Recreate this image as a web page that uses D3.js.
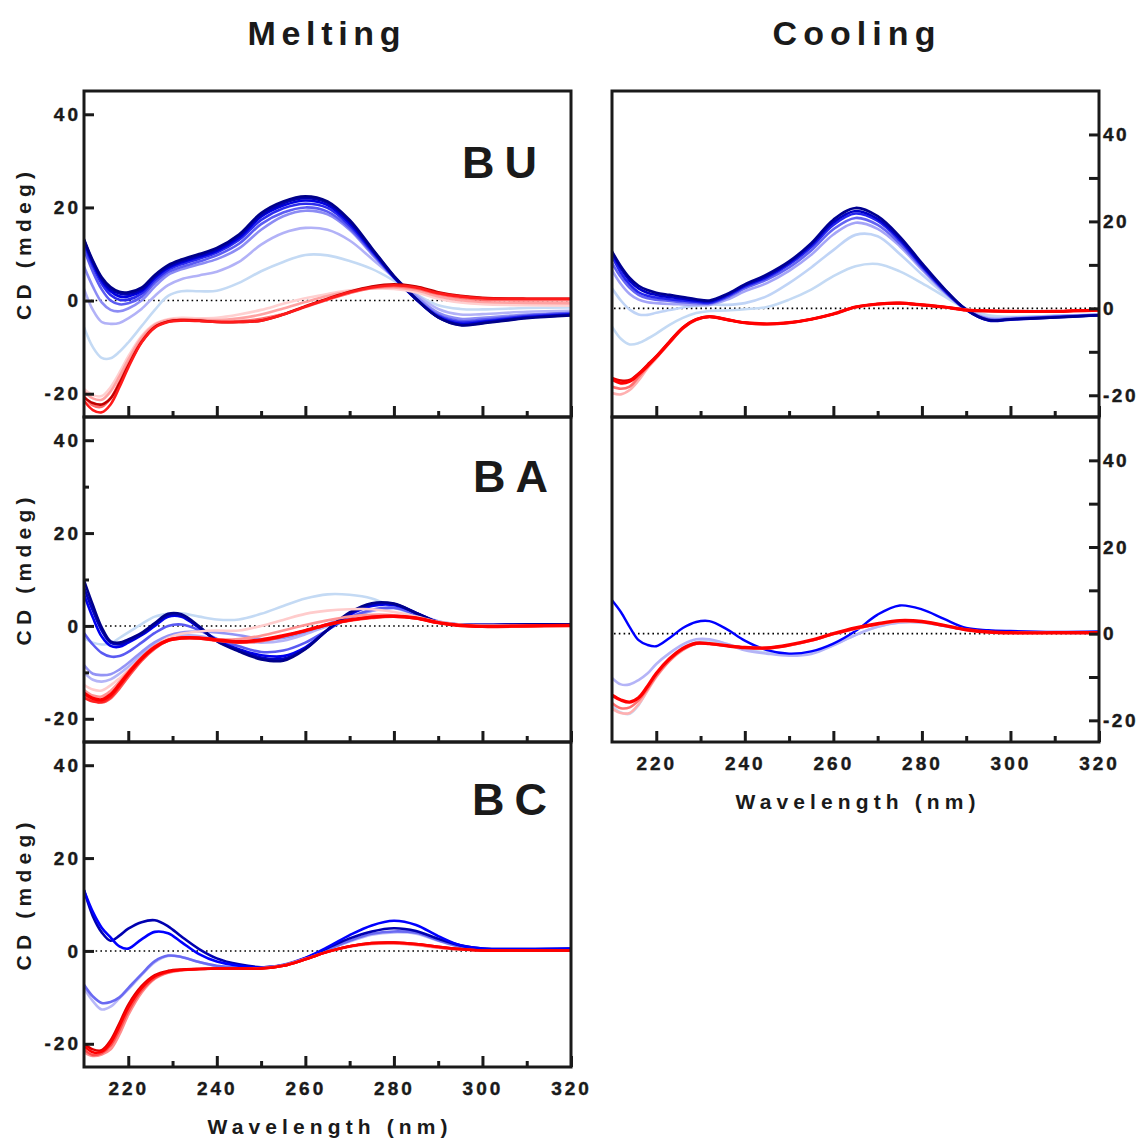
<!DOCTYPE html>
<html><head><meta charset="utf-8">
<script src="https://cdn.jsdelivr.net/npm/d3@7"></script>
<style>
body{margin:0;background:#fff;}
svg text{font-family:"Liberation Sans",Arial,sans-serif;font-weight:bold;fill:#1a1a1a;}
</style></head><body>
<svg id="c" width="1143" height="1142"></svg>
<script>
// ---------- DATA ----------
const wavelengths = [210,212,214,216,218,220,223,226,229,232,236,240,245,250,255,260,265,270,275,280,285,290,295,300,310,320];
const xMajorTicks = [220,240,260,280,300,320];
const xMinorTicks = [230,250,270,290,310];
const yMajorTicks = [-20,0,20,40];
const yMinorTicks = [-10,10,30];
const columnTitles = ["Melting","Cooling"];
const panelNames = ["BU","BA","BC"];
const yAxisTitle = "CD (mdeg)";
const xAxisTitle = "Wavelength (nm)";

// BU melting
const buM_b1 = [13.2,8.6,5.0,2.9,1.9,1.8,2.8,5.5,7.6,8.8,10.0,11.3,14.2,18.8,21.3,22.4,21.3,17.3,11.3,5.3,0.4,-3.6,-5.3,-4.9,-3.8,-3.2];
const buM_b2 = [13.0,8.3,4.7,2.5,1.5,1.4,2.4,5.2,7.3,8.5,9.7,11.0,13.9,18.4,20.9,22.0,21.0,17.0,11.1,5.2,0.3,-3.6,-5.2,-4.8,-3.7,-3.1];
const buM_b3 = [12.8,8.0,4.3,2.0,0.9,0.9,2.0,4.9,7.0,8.2,9.4,10.7,13.5,18.0,20.4,21.5,20.5,16.6,10.9,5.1,0.3,-3.5,-5.0,-4.6,-3.6,-3.0];
const buM_b4 = [12.2,7.4,3.6,1.2,0.2,0.2,1.5,4.4,6.6,7.8,9.0,10.3,13.0,17.3,19.8,20.8,19.9,16.1,10.6,5.0,0.4,-3.3,-4.7,-4.4,-3.4,-2.9];
const buM_b5 = [11.0,6.2,2.4,0.0,-0.8,-0.6,0.8,3.8,6.1,7.2,8.4,9.7,12.2,16.4,18.9,20.0,19.1,15.6,10.3,4.9,0.5,-3.1,-4.4,-4.1,-3.2,-2.7];
const buM_b6 = [7.3,3.0,-0.4,-2.0,-2.3,-1.7,0.0,3.0,5.5,6.7,7.8,8.9,11.2,15.2,18.1,19.3,18.5,15.2,10.0,5.0,0.9,-2.6,-3.9,-3.7,-3.0,-2.6];
const buM_b7 = [2.5,-2.0,-4.6,-5.0,-4.8,-3.8,-1.8,1.0,3.3,4.6,5.4,6.2,8.3,12.0,14.5,15.6,15.2,12.9,9.0,5.0,1.3,-1.8,-3.0,-2.9,-2.4,-2.2];
const buM_b8 = [-5.7,-10.0,-12.3,-12.4,-11.0,-9.0,-5.5,-2.0,1.0,2.0,2.0,2.1,3.8,6.3,8.3,9.8,9.7,8.5,6.8,4.3,1.4,-1.0,-1.8,-1.9,-1.6,-1.5];
const buM_r1 = [-19.0,-20.3,-20.5,-18.6,-15.5,-12.0,-7.6,-5.0,-4.0,-3.7,-3.8,-3.7,-3.0,-2.0,-0.7,0.5,1.4,2.2,2.6,2.5,1.8,0.4,-0.4,-0.8,-1.0,-1.1];
const buM_r2 = [-19.5,-21.0,-21.3,-19.5,-16.3,-12.7,-8.0,-5.2,-4.2,-4.0,-4.1,-4.2,-3.8,-3.0,-1.7,-0.3,1.0,2.0,2.6,2.8,2.2,0.9,0.1,-0.3,-0.5,-0.6];
const buM_r3 = [-20.5,-22.5,-22.8,-21.0,-17.5,-13.7,-8.7,-5.6,-4.5,-4.2,-4.3,-4.5,-4.4,-3.9,-2.9,-1.4,0.2,1.6,2.7,3.1,2.6,1.4,0.6,0.2,0.1,0.1];
const buM_r4 = [-21.5,-23.5,-24.0,-22.3,-18.6,-14.4,-9.0,-5.8,-4.6,-4.3,-4.4,-4.6,-4.6,-4.3,-3.0,-1.3,0.3,1.8,2.8,3.3,2.8,1.6,0.9,0.5,0.4,0.4];
const buM_r5 = [-20.8,-22.0,-22.3,-21.0,-17.8,-14.0,-8.9,-5.7,-4.5,-4.2,-4.3,-4.6,-4.6,-4.3,-3.0,-1.2,0.4,1.9,3.0,3.5,3.0,1.8,1.0,0.6,0.4,0.4];

// BU cooling
const buC_b1 = [13.1,9.7,7.0,5.2,4.2,3.6,3.1,2.6,2.1,1.8,3.3,5.5,7.8,10.8,15.0,20.4,23.1,21.2,16.5,10.4,4.6,-0.3,-2.7,-2.5,-2.1,-1.6];
const buC_b2 = [12.8,9.2,6.4,4.6,3.6,3.1,2.6,2.2,1.8,1.6,3.1,5.3,7.4,10.5,14.6,19.8,22.4,20.6,16.0,10.0,4.4,-0.3,-2.8,-2.6,-2.1,-1.6];
const buC_b3 = [12.0,8.2,5.5,3.7,2.9,2.5,2.1,1.8,1.5,1.3,2.8,5.0,7.1,10.1,14.1,19.2,21.8,20.1,15.6,9.7,4.2,-0.3,-2.7,-2.5,-2.0,-1.6];
const buC_b4 = [10.4,7.2,4.7,3.1,2.3,2.0,1.7,1.4,1.2,1.1,2.5,4.6,6.6,9.4,13.3,18.2,20.8,19.2,14.9,9.3,4.0,-0.3,-2.5,-2.4,-1.9,-1.5];
const buC_b5 = [8.8,5.6,3.3,2.0,1.4,1.2,1.0,0.9,0.8,0.8,2.0,3.9,5.8,8.6,12.3,17.0,19.7,18.3,14.3,8.9,3.8,-0.2,-2.3,-2.2,-1.8,-1.5];
const buC_b6 = [4.6,1.8,-0.3,-1.4,-1.5,-1.0,-0.4,0.2,0.6,0.9,0.8,1.2,2.8,5.8,9.4,13.4,16.9,16.6,12.5,7.8,3.4,-0.1,-1.8,-2.0,-1.7,-1.5];
const buC_b7 = [-4.2,-7.0,-8.3,-8.0,-7.0,-5.8,-3.8,-2.2,-1.1,-0.6,-0.5,-0.2,0.3,2.0,4.3,7.4,9.7,10.2,8.5,5.8,2.8,-0.1,-1.6,-2.0,-1.7,-1.5];
const buC_r1 = [-19.5,-19.8,-18.8,-16.6,-13.8,-11.5,-8.0,-4.7,-2.7,-2.0,-2.6,-3.3,-3.6,-3.3,-2.5,-1.3,0.2,0.9,1.2,0.8,0.3,-0.3,-0.6,-0.7,-0.7,-0.4];
const buC_r2 = [-18.0,-18.5,-18.0,-15.8,-13.5,-11.3,-7.9,-4.6,-2.6,-1.9,-2.6,-3.3,-3.6,-3.3,-2.5,-1.3,0.3,1.0,1.2,0.8,0.3,-0.4,-0.6,-0.7,-0.7,-0.4];
const buC_r3 = [-16.3,-17.2,-16.8,-15.2,-13.3,-11.2,-7.8,-4.5,-2.6,-1.9,-2.6,-3.3,-3.6,-3.3,-2.5,-1.3,0.3,1.0,1.2,0.8,0.3,-0.4,-0.6,-0.7,-0.7,-0.4];
const buC_r4 = [-16.0,-16.6,-16.5,-15.0,-13.0,-11.0,-7.6,-4.4,-2.5,-1.9,-2.6,-3.3,-3.6,-3.3,-2.5,-1.3,0.3,1.0,1.2,0.8,0.3,-0.4,-0.6,-0.7,-0.7,-0.4];

// BA melting
const baM_b1 = [9.8,4.5,-0.3,-3.3,-3.6,-2.9,-1.5,0.6,2.6,2.5,-0.1,-3.3,-5.5,-7.2,-7.5,-5.0,-0.8,2.9,4.9,4.8,2.8,0.8,0.3,0.2,0.3,0.3];
const baM_b2 = [8.3,3.3,-1.0,-3.6,-4.0,-3.3,-1.8,0.3,2.3,2.2,-0.3,-3.2,-5.2,-6.8,-7.1,-4.9,-0.9,2.6,4.6,4.7,2.8,0.8,0.3,0.2,0.3,0.3];
const baM_b3 = [6.8,1.8,-2.3,-4.3,-4.5,-3.6,-2.0,0.0,2.0,2.0,-0.4,-3.1,-5.0,-6.3,-6.5,-4.6,-0.9,2.4,4.3,4.5,2.8,0.8,0.3,0.2,0.3,0.3];
const baM_b4 = [-1.5,-4.0,-5.8,-6.6,-6.5,-5.6,-3.6,-1.5,0.0,0.3,-0.9,-2.8,-4.4,-5.6,-5.3,-3.6,-0.9,1.8,3.5,3.9,2.5,0.8,0.3,0.2,0.3,0.3];
const baM_b5 = [-8.4,-10.3,-10.6,-10.4,-9.4,-8.0,-5.6,-3.5,-2.1,-1.4,-1.2,-1.4,-2.0,-2.8,-2.6,-1.3,0.4,1.9,3.3,3.9,2.7,1.0,0.3,0.2,0.3,0.3];
const baM_b6 = [-10.0,-11.6,-12.0,-11.5,-10.3,-8.8,-6.2,-3.9,-2.5,-2.0,-2.2,-2.8,-3.2,-3.6,-3.2,-1.8,0.0,1.7,3.2,3.8,2.6,0.9,0.3,0.2,0.3,0.3];
const baM_b7 = [-2.6,-3.6,-4.0,-3.8,-2.6,-1.4,0.4,2.0,2.6,2.7,2.0,1.4,1.4,2.6,4.3,5.9,6.8,6.7,5.9,4.0,2.3,0.8,0.3,0.2,0.3,0.3];
const baM_r1 = [-12.7,-13.7,-13.9,-12.8,-11.3,-9.6,-6.9,-4.4,-2.6,-1.7,-1.2,-1.0,-1.0,0.0,1.3,2.6,3.3,3.6,3.6,3.0,2.0,0.9,0.3,0.1,0.1,0.1];
const baM_r2 = [-13.8,-15.0,-15.2,-14.0,-12.0,-9.8,-6.8,-4.3,-3.0,-2.6,-2.6,-2.9,-2.8,-2.1,-1.0,0.2,1.2,2.0,2.4,2.3,1.6,0.7,0.2,0.0,0.0,0.1];
const baM_r3 = [-15.0,-16.0,-16.5,-15.6,-13.5,-11.0,-7.5,-4.9,-3.2,-2.7,-2.7,-3.2,-3.6,-3.3,-2.3,-1.1,0.2,1.1,1.7,2.0,1.6,0.7,0.1,-0.1,0.0,0.1];
const baM_r4 = [-15.5,-16.3,-16.4,-15.3,-13.0,-10.5,-7.2,-4.6,-3.0,-2.5,-2.6,-3.1,-3.5,-3.1,-2.2,-1.0,0.3,1.2,1.9,2.1,1.7,0.7,0.1,-0.1,0.0,0.1];
const baM_r5 = [-14.5,-15.6,-15.9,-14.8,-12.6,-10.2,-7.0,-4.6,-3.1,-2.6,-2.6,-3.0,-3.4,-3.0,-2.1,-1.0,0.3,1.3,1.9,2.1,1.7,0.7,0.1,-0.1,0.0,0.1];

// BA cooling
const baC_b1 = [7.7,5.0,1.5,-1.5,-2.6,-2.9,-1.0,1.3,2.7,2.9,1.0,-1.6,-3.8,-4.6,-4.1,-2.3,0.6,4.4,6.5,5.6,3.4,1.3,0.8,0.6,0.4,0.5];
const baC_b2 = [-10.2,-11.7,-11.7,-10.7,-9.2,-7.0,-4.5,-2.5,-1.3,-1.3,-2.4,-3.8,-4.6,-5.1,-4.7,-2.7,-0.3,1.6,2.6,2.6,1.8,0.9,0.4,0.3,0.2,0.2];
const baC_b3 = [-16.6,-18.2,-18.5,-16.5,-13.0,-9.5,-5.8,-3.3,-2.0,-1.6,-2.4,-3.6,-4.4,-4.8,-4.5,-2.6,-0.3,1.6,2.6,2.6,1.8,0.9,0.4,0.3,0.2,0.2];
const baC_r1 = [-17.3,-18.3,-18.3,-16.3,-13.2,-10.0,-6.3,-3.8,-2.4,-2.3,-2.8,-3.2,-3.3,-2.7,-1.6,-0.1,1.1,2.1,2.8,2.7,1.9,0.9,0.4,0.2,0.2,0.2];
const baC_r2 = [-16.0,-17.2,-17.0,-15.4,-12.8,-9.8,-6.2,-3.7,-2.3,-2.3,-2.8,-3.2,-3.3,-2.7,-1.6,-0.1,1.2,2.2,2.9,2.8,1.9,0.9,0.4,0.2,0.2,0.2];
const baC_r3 = [-14.2,-15.3,-15.8,-14.8,-12.2,-9.2,-5.8,-3.4,-2.2,-2.3,-2.8,-3.2,-3.3,-2.6,-1.5,0.0,1.3,2.3,3.0,2.8,1.9,0.9,0.4,0.2,0.2,0.2];

// BC melting
const bcM_b1 = [13.1,7.5,4.0,2.2,3.3,4.8,6.2,6.6,5.3,3.1,0.4,-1.6,-2.9,-3.5,-3.1,-1.6,0.6,2.7,4.2,4.9,4.3,2.6,1.2,0.5,0.4,0.5];
const bcM_b2 = [13.0,8.4,5.0,2.9,1.0,0.5,2.5,4.1,3.8,1.9,-0.7,-2.3,-3.2,-3.6,-3.1,-1.5,0.8,3.4,5.5,6.5,5.6,3.2,1.2,0.5,0.4,0.5];
const bcM_b3 = [-7.3,-9.8,-11.2,-11.0,-10.0,-8.0,-5.0,-2.2,-1.0,-1.3,-2.4,-3.2,-3.6,-3.6,-3.0,-1.5,0.3,2.2,3.7,4.2,3.9,2.3,0.9,0.3,0.3,0.3];
const bcM_b4 = [-8.0,-10.8,-12.6,-12.0,-10.2,-8.3,-5.2,-2.4,-1.1,-1.3,-2.4,-3.3,-3.6,-3.6,-3.0,-1.5,0.2,2.0,3.5,4.0,3.7,2.2,0.8,0.3,0.3,0.3];
const bcM_r1 = [-21.8,-22.6,-22.3,-21.2,-18.0,-13.8,-9.0,-6.0,-4.7,-4.2,-3.9,-3.8,-3.8,-3.7,-3.1,-1.7,-0.2,0.9,1.5,1.6,1.3,0.7,0.3,0.1,0.1,0.1];
const bcM_r2 = [-21.2,-22.4,-22.0,-20.4,-17.0,-13.0,-8.5,-5.8,-4.6,-4.1,-3.9,-3.8,-3.8,-3.8,-3.2,-1.8,-0.2,1.0,1.6,1.7,1.4,0.8,0.3,0.1,0.1,0.1];
const bcM_r3 = [-20.5,-21.8,-21.7,-19.8,-16.2,-12.2,-8.0,-5.5,-4.5,-4.1,-3.9,-3.8,-3.8,-3.8,-3.2,-1.8,-0.2,1.0,1.7,1.8,1.5,0.9,0.4,0.1,0.1,0.1];
const bcM_r4 = [-20.0,-21.2,-21.4,-19.3,-15.6,-11.6,-7.6,-5.2,-4.3,-4.0,-3.9,-3.8,-3.8,-3.8,-3.2,-1.8,-0.2,1.0,1.7,1.8,1.5,0.9,0.4,0.1,0.1,0.1];

// ---------- DRAWING ----------
const svg = d3.select("#c");
const TICKFONT = 19;
const hyphenFmt = d => String(d);   // plain hyphen-minus like the reference

const panels = [
  {id:"bum", x0:84, x1:571, y0:91, y1:417, yDomain:[-25,45], side:"left", yMinor:false, xLabels:false, name:panelNames[0], nameX:462, nameY:178,
   series:[
    {v:buM_b8,c:"#c4daf4"},{v:buM_b7,c:"#b2b2f7"},{v:buM_b6,c:"#8c8cf4"},{v:buM_b5,c:"#5c5cf2"},
    {v:buM_b4,c:"#2a2aee"},{v:buM_b3,c:"#0000e0"},{v:buM_b2,c:"#0000b4"},{v:buM_b1,c:"#000088"},
    {v:buM_r1,c:"#ffd0d0"},{v:buM_r2,c:"#ffa2a2"},{v:buM_r3,c:"#ff6a6a"},{v:buM_r5,c:"#c00000"},{v:buM_r4,c:"#ff1a1a"}]},
  {id:"bam", x0:84, x1:571, y0:417, y1:742, yDomain:[-25,45], side:"left", yMinor:true, xLabels:false, name:panelNames[1], nameX:473, nameY:492,
   series:[
    {v:baM_b7,c:"#c4daf4"},{v:baM_b6,c:"#b4b4f7"},{v:baM_b5,c:"#9494f5"},{v:baM_b4,c:"#5a5af2"},
    {v:baM_b3,c:"#0000ee"},{v:baM_b2,c:"#0000c0"},{v:baM_b1,c:"#00008a"},
    {v:baM_r1,c:"#ffcccc"},{v:baM_r2,c:"#ff9494"},{v:baM_r3,c:"#ff5050"},{v:baM_r4,c:"#ff2020"},{v:baM_r5,c:"#ff0000",w:3.4}]},
  {id:"bcm", x0:84, x1:571, y0:742, y1:1067, yDomain:[-25,45], side:"left", yMinor:false, xLabels:true, name:panelNames[2], nameX:472, nameY:815,
   series:[
    {v:bcM_b4,c:"#b8b8f8"},{v:bcM_b3,c:"#6a6af2"},{v:bcM_b1,c:"#0000b0"},{v:bcM_b2,c:"#0000ff"},
    {v:bcM_r1,c:"#ff8c8c"},{v:bcM_r2,c:"#ff4a4a"},{v:bcM_r4,c:"#e00000"},{v:bcM_r3,c:"#ff0000"}]},
  {id:"buc", x0:612, x1:1099, y0:91, y1:417, yDomain:[-25,50], side:"right", yMinor:true, xLabels:false,
   series:[
    {v:buC_b7,c:"#c4daf4"},{v:buC_b6,c:"#c0d4f6"},{v:buC_b5,c:"#a4a4f7"},{v:buC_b4,c:"#6464f2"},
    {v:buC_b3,c:"#2424ee"},{v:buC_b2,c:"#0000c8"},{v:buC_b1,c:"#000090"},
    {v:buC_r1,c:"#ffb0b0"},{v:buC_r2,c:"#ff7070"},{v:buC_r4,c:"#e00000"},{v:buC_r3,c:"#ff0000",w:3.2}]},
  {id:"bac", x0:612, x1:1099, y0:417, y1:742, yDomain:[-25,50], side:"right", yMinor:true, xLabels:true,
   series:[
    {v:baC_b3,c:"#c4daf4"},{v:baC_b2,c:"#b4b4f7"},{v:baC_b1,c:"#0000ff",w:2.4},
    {v:baC_r1,c:"#ffb0b0"},{v:baC_r2,c:"#ff7070"},{v:baC_r3,c:"#ff0000",w:3.4}]}
];

panels.forEach(p => {
  const x = d3.scaleLinear().domain([210,320]).range([p.x0,p.x1]);
  const y = d3.scaleLinear().domain(p.yDomain).range([p.y1,p.y0]);
  const g = svg.append("g");
  svg.append("clipPath").attr("id","clip-"+p.id).append("rect")
    .attr("x",p.x0).attr("y",p.y0).attr("width",p.x1-p.x0).attr("height",p.y1-p.y0);

  // zero reference line
  g.append("line").attr("x1",p.x0+2).attr("x2",p.x1).attr("y1",y(0)).attr("y2",y(0))
    .attr("stroke","#000").attr("stroke-width",1.6).attr("stroke-dasharray","1.6,3.2");

  const line = d3.line().x((d,i)=>x(wavelengths[i])).y(d=>y(d)).curve(d3.curveCatmullRom.alpha(0.5));
  const lg = g.append("g").attr("clip-path","url(#clip-"+p.id+")");
  p.series.forEach(s => {
    lg.append("path").datum(s.v).attr("d",line).attr("fill","none")
      .attr("stroke",s.c).attr("stroke-width",s.w||2.6)
      .attr("stroke-linejoin","round").attr("stroke-linecap","round");
  });

  // x axis (ticks inward)
  const xa = g.append("g").attr("transform",`translate(0,${p.y1})`)
    .call(d3.axisBottom(x).tickValues(xMajorTicks).tickSizeInner(-11).tickSizeOuter(0).tickPadding(15)
      .tickFormat(p.xLabels ? hyphenFmt : ""));
  const xm = g.append("g").attr("transform",`translate(0,${p.y1})`)
    .call(d3.axisBottom(x).tickValues(xMinorTicks).tickSizeInner(-6).tickSizeOuter(0).tickFormat(""));

  // y axis
  let ya, ym, sp;
  if (p.side === "left") {
    sp = 3;
    ya = g.append("g").attr("transform",`translate(${p.x0},0)`)
      .call(d3.axisLeft(y).tickValues(yMajorTicks).tickFormat(hyphenFmt).tickSizeInner(-10).tickSizeOuter(0).tickPadding(3));
    if (p.yMinor) ym = g.append("g").attr("transform",`translate(${p.x0},0)`)
      .call(d3.axisLeft(y).tickValues(yMinorTicks).tickSizeInner(-5).tickSizeOuter(0).tickFormat(""));
  } else {
    sp = 2.5;
    ya = g.append("g").attr("transform",`translate(${p.x1},0)`)
      .call(d3.axisRight(y).tickValues(yMajorTicks).tickFormat(hyphenFmt).tickSizeInner(-10).tickSizeOuter(0).tickPadding(4));
    ym = g.append("g").attr("transform",`translate(${p.x1},0)`)
      .call(d3.axisRight(y).tickValues(yMinorTicks).tickSizeInner(-10).tickSizeOuter(0).tickFormat(""));
  }
  [xa,xm].forEach(a => a.selectAll(".tick text").style("letter-spacing","3px"));
  [ya,ym].forEach(a => { if (a) a.selectAll(".tick text").style("letter-spacing",sp+"px"); });
  [xa,xm,ya,ym].forEach(a => {
    if (!a) return;
    a.select(".domain").remove();
    a.selectAll(".tick line").attr("stroke","#1a1a1a").attr("stroke-width",3);
    a.selectAll(".tick text").attr("font-size",TICKFONT)
      .attr("font-family",null).attr("fill","#1a1a1a")
      .attr("stroke","#1a1a1a").attr("stroke-width",0.4);
  });

  // frame
  g.append("rect").attr("x",p.x0).attr("y",p.y0).attr("width",p.x1-p.x0).attr("height",p.y1-p.y0)
    .attr("fill","none").attr("stroke","#1a1a1a").attr("stroke-width",3);

  // panel name
  if (p.name) {
    g.append("text").attr("x",p.nameX).attr("y",p.nameY).attr("font-size",45)
      .style("letter-spacing","10px").text(p.name);
  }
  // y title for left column
  if (p.side === "left") {
    const cy = (p.y0+p.y1)/2 - 8;
    g.append("text").attr("transform",`translate(31,${cy}) rotate(-90)`).attr("text-anchor","middle")
      .attr("font-size",21).attr("textLength",148).attr("lengthAdjust","spacing").text(yAxisTitle);
  }
  if (p.xLabels) {
    g.append("text").attr("x",(p.x0+p.x1)/2).attr("y",p.y1+67).attr("text-anchor","middle")
      .attr("font-size",21).attr("textLength",240).attr("lengthAdjust","spacing").text(xAxisTitle);
  }
});

// column titles
svg.append("text").attr("x",324).attr("y",45).attr("text-anchor","middle").attr("font-size",34)
  .attr("textLength",153).attr("lengthAdjust","spacing").text(columnTitles[0]);
svg.append("text").attr("x",854).attr("y",45).attr("text-anchor","middle").attr("font-size",34)
  .attr("textLength",163).attr("lengthAdjust","spacing").text(columnTitles[1]);
</script>
</body></html>
